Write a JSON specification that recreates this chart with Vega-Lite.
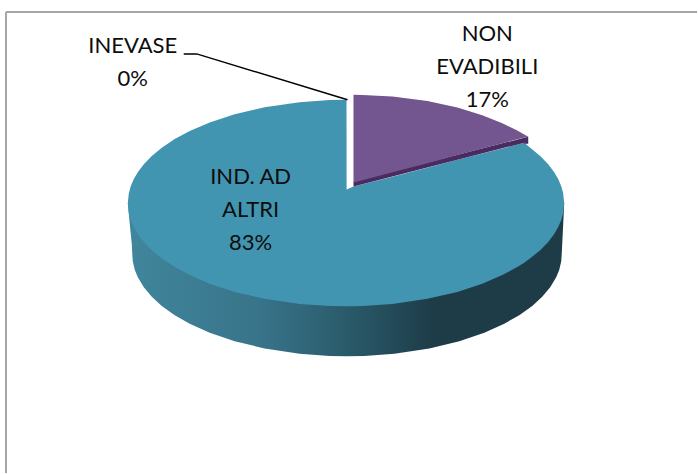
{
"$schema":"https://vega.github.io/schema/vega-lite/v6.json",
"width":698,"height":474,"padding":0,
"autosize":{"type":"fit","contains":"padding"},
"background":"#ffffff",
"config":{"view":{"stroke":null}},
"datasets":{
"side":[{"x":128,"y":203.5,"y2":204},{"x":130,"y":203.5,"y2":225},{"x":132,"y":203.5,"y2":245},{"x":132.5,"y":203.5,"y2":255},{"x":133,"y":203.5,"y2":262},{"x":135,"y":203.5,"y2":270.5},{"x":138,"y":203.5,"y2":277.9},{"x":144,"y":203.5,"y2":287.9},{"x":152,"y":203.5,"y2":297.4},{"x":162,"y":203.5,"y2":306.6},{"x":175,"y":203.5,"y2":315.9},{"x":190,"y":203.5,"y2":324.4},{"x":210,"y":203.5,"y2":333.4},{"x":235,"y":203.5,"y2":341.9},{"x":265,"y":203.5,"y2":349.2},{"x":300,"y":203.5,"y2":354.5},{"x":330,"y":203.5,"y2":356.7},{"x":347,"y":203.5,"y2":357},{"x":365,"y":203.5,"y2":356.7},{"x":395,"y":203.5,"y2":354.5},{"x":430,"y":203.5,"y2":349.2},{"x":460,"y":203.5,"y2":341.9},{"x":485,"y":203.5,"y2":333.4},{"x":505,"y":203.5,"y2":324.4},{"x":520,"y":203.5,"y2":315.9},{"x":533,"y":203.5,"y2":306.6},{"x":543,"y":203.5,"y2":297.4},{"x":551,"y":203.5,"y2":287.9},{"x":557,"y":203.5,"y2":277.9},{"x":560,"y":203.5,"y2":270.5},{"x":562,"y":203.5,"y2":262},{"x":562.5,"y":203.5,"y2":255},{"x":563,"y":203.5,"y2":245},{"x":564,"y":203.5,"y2":225},{"x":565,"y":203.5,"y2":204}],
"blue":[{"x":128,"y":203.5,"y2":203.5},{"x":129,"y":193.6,"y2":213.4},{"x":131,"y":186.4,"y2":220.6},{"x":134,"y":179.4,"y2":227.6},{"x":138,"y":172.5,"y2":234.5},{"x":144,"y":164.6,"y2":242.4},{"x":152,"y":156.3,"y2":250.7},{"x":162,"y":148.1,"y2":258.9},{"x":175,"y":139.4,"y2":267.6},{"x":190,"y":131.3,"y2":275.7},{"x":210,"y":122.7,"y2":284.3},{"x":235,"y":114.5,"y2":292.5},{"x":265,"y":107.5,"y2":299.5},{"x":300,"y":102.4,"y2":304.6},{"x":330,"y":100.3,"y2":306.7},{"x":347,"y":100,"y2":307},{"x":347.1,"y":190,"y2":307},{"x":354,"y":187,"y2":306.9},{"x":363,"y":184.7,"y2":306.7},{"x":393,"y":177,"y2":304.6},{"x":428,"y":168,"y2":299.5},{"x":458,"y":160.2,"y2":292.5},{"x":483,"y":153.8,"y2":284.3},{"x":503,"y":148.7,"y2":275.7},{"x":518,"y":144.8,"y2":267.6},{"x":525,"y":143,"y2":263.2},{"x":531,"y":148.1,"y2":258.9},{"x":541,"y":156.3,"y2":250.7},{"x":549,"y":164.6,"y2":242.4},{"x":555,"y":172.5,"y2":234.5},{"x":559,"y":179.4,"y2":227.6},{"x":562,"y":186.4,"y2":220.6},{"x":564,"y":193.6,"y2":213.4},{"x":565,"y":203.5,"y2":203.5}],
"dark":[{"x":354,"y":182,"y2":187},{"x":525,"y":138,"y2":143},{"x":525.1,"y":138,"y2":144},{"x":529,"y":137,"y2":144}],
"purple":[{"x":354,"y":95,"y2":183},{"x":363,"y":95.1,"y2":180.6},{"x":393,"y":96.8,"y2":172.7},{"x":428,"y":101.3,"y2":163.5},{"x":458,"y":107.8,"y2":155.4},{"x":483,"y":115.4,"y2":148.8},{"x":503,"y":123.4,"y2":143.6},{"x":518,"y":130.9,"y2":139.6},{"x":529,"y":137,"y2":137}],
"leader":[{"x":184,"y":54},{"x":197,"y":54},{"x":348,"y":100}],
"border":[{"x":6,"x2":698,"y":12,"y2":12},{"x":6,"x2":6,"y":12,"y2":474}],
"labels":[{"category":"INEVASE","share":0,"label":"INEVASE\n0%","x":133,"y":53},{"category":"NON EVADIBILI","share":17,"label":"NON\nEVADIBILI\n17%","x":488,"y":41},{"category":"IND. AD ALTRI","share":83,"label":"IND. AD\nALTRI\n83%","x":251,"y":184}]
},
"encoding":{
"x":{"field":"x","type":"quantitative","scale":{"domain":[0,698],"nice":false,"zero":false},"axis":null},
"y":{"field":"y","type":"quantitative","scale":{"domain":[474,0],"nice":false,"zero":false},"axis":null}
},
"layer":[
{"data":{"name":"border"},"mark":{"type":"rule","color":"#a6a6a6","strokeWidth":2},"encoding":{"x2":{"field":"x2"},"y2":{"field":"y2"}}},
{"data":{"name":"side"},"mark":{"type":"area","orient":"vertical","color":{"gradient":"linear","x1":0,"y1":0,"x2":1,"y2":0,"stops":[{"offset":0,"color":"#40869c"},{"offset":0.3,"color":"#38748a"},{"offset":0.5,"color":"#2a5b6b"},{"offset":0.7,"color":"#1d3c48"},{"offset":1,"color":"#1d3c48"}]}},"encoding":{"y2":{"field":"y2"}}},
{"data":{"name":"blue"},"mark":{"type":"area","orient":"vertical","color":"#4295b0"},"encoding":{"y2":{"field":"y2"}}},
{"data":{"name":"dark"},"mark":{"type":"area","orient":"vertical","color":"#4a2b60"},"encoding":{"y2":{"field":"y2"}}},
{"data":{"name":"purple"},"mark":{"type":"area","orient":"vertical","color":"#73558f"},"encoding":{"y2":{"field":"y2"}}},
{"data":{"name":"leader"},"mark":{"type":"line","color":"#000000","strokeWidth":1.5},"encoding":{"order":{"field":"x"}}},
{"data":{"name":"labels"},"mark":{"type":"text","font":"Lato","fontSize":22,"lineHeight":33,"align":"center","baseline":"alphabetic","lineBreak":"\n","color":"#0d0d0d"},"encoding":{"text":{"field":"label"}}}
]
}
